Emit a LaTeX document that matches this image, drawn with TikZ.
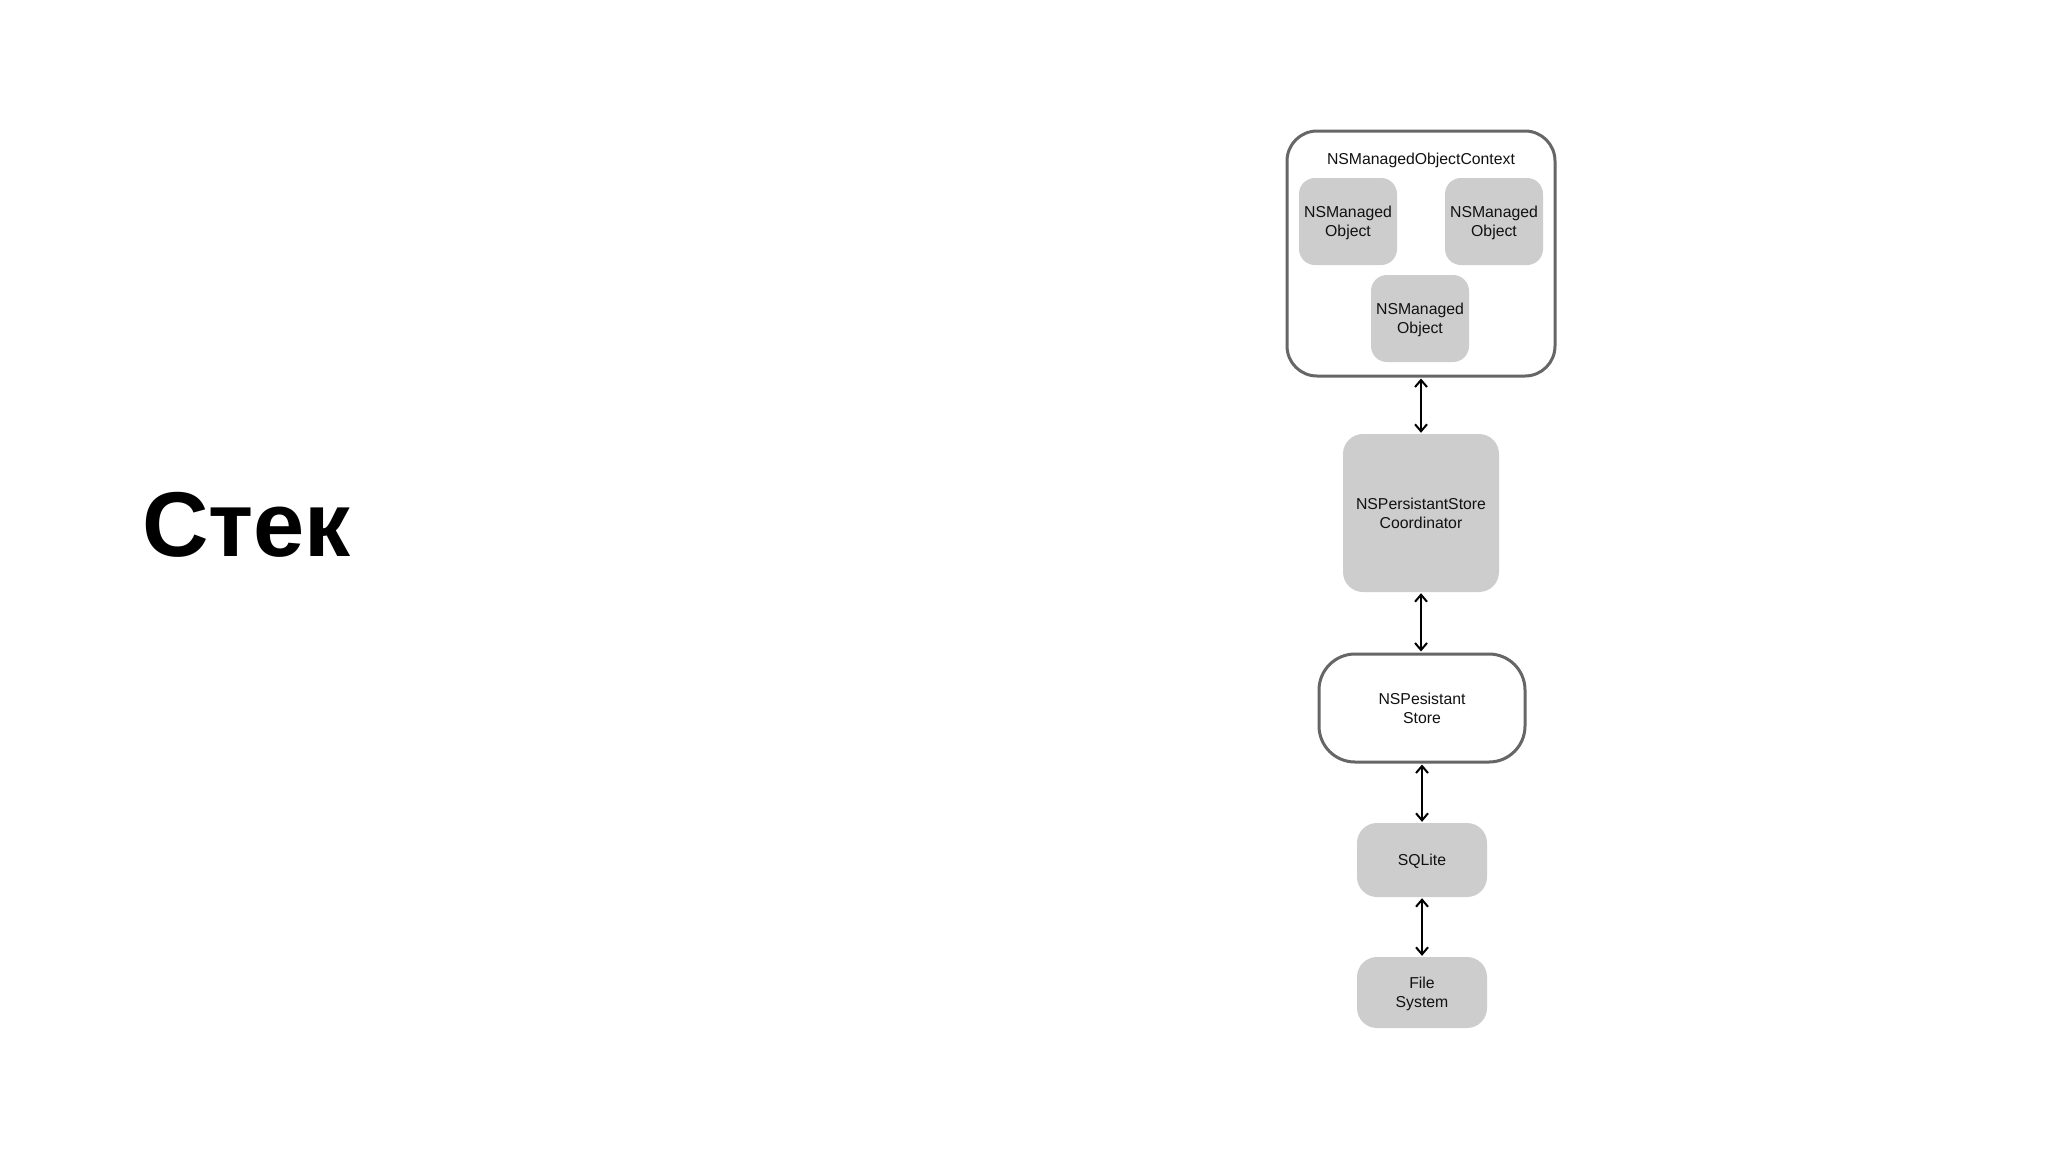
\documentclass[tikz,border=0pt]{standalone}
\usepackage{fontspec}
\setmainfont{Liberation Sans}
\usetikzlibrary{arrows.meta}
\definecolor{boxfill}{HTML}{CDCDCD}
\definecolor{boxline}{HTML}{666666}
\definecolor{txt}{HTML}{111111}
\begin{document}
\begin{tikzpicture}[x=1pt,y=-1pt,
  lbl/.style={font=\fontsize{15.8}{19}\selectfont, text=txt, align=center, inner sep=0pt, text depth=0pt},
  graybox/.style={lbl, rectangle, fill=boxfill, rounded corners=16pt},
  whitebox/.style={lbl, rectangle, draw=boxline, line width=3pt, fill=white},
  link/.style={line width=2pt, black, {Straight Barb[length=7pt,width=12pt]}-{Straight Barb[length=7pt,width=12pt]}, shorten <=1pt, shorten >=1pt}
]
\useasboundingbox (0,0) rectangle (2048,1152);
\fill[white] (0,0) rectangle (2048,1152);

\node[anchor=base west, inner sep=0pt, font=\fontsize{92}{100}\selectfont\bfseries] (title) at (142,556) {Стек};

\node[whitebox, rounded corners=30pt, minimum width=268pt, minimum height=245pt] (ctx) at (1421,253.5) {};
\node[lbl] (ctxlabel) at (1421,159) {NSManagedObjectContext};
\node[graybox, minimum width=98pt, minimum height=87pt] (obj1) at (1348,221.5) {NSManaged\\Object};
\node[graybox, minimum width=98pt, minimum height=87pt] (obj2) at (1494,221.5) {NSManaged\\Object};
\node[graybox, minimum width=98pt, minimum height=87pt] (obj3) at (1420,318.5) {NSManaged\\Object};

\node[graybox, rounded corners=20pt, minimum width=156pt, minimum height=158pt] (coord) at (1421,513) {NSPersistantStore\\Coordinator};
\node[whitebox, rounded corners=36pt, minimum width=206pt, minimum height=108pt] (store) at (1422,708) {NSPesistant\\Store};
\node[graybox, rounded corners=20pt, minimum width=130pt, minimum height=74pt] (sqlite) at (1422,860) {SQLite};
\node[graybox, rounded corners=20pt, minimum width=130pt, minimum height=71pt] (fs) at (1422,992.5) {File\\System};

\draw[link] (ctx.south -| coord.north) -- (coord.north);
\draw[link] (coord.south) -- (store.north -| coord.south);
\draw[link] (store.south) -- (sqlite.north);
\draw[link] (sqlite.south) -- (fs.north);
\end{tikzpicture}
\end{document}
